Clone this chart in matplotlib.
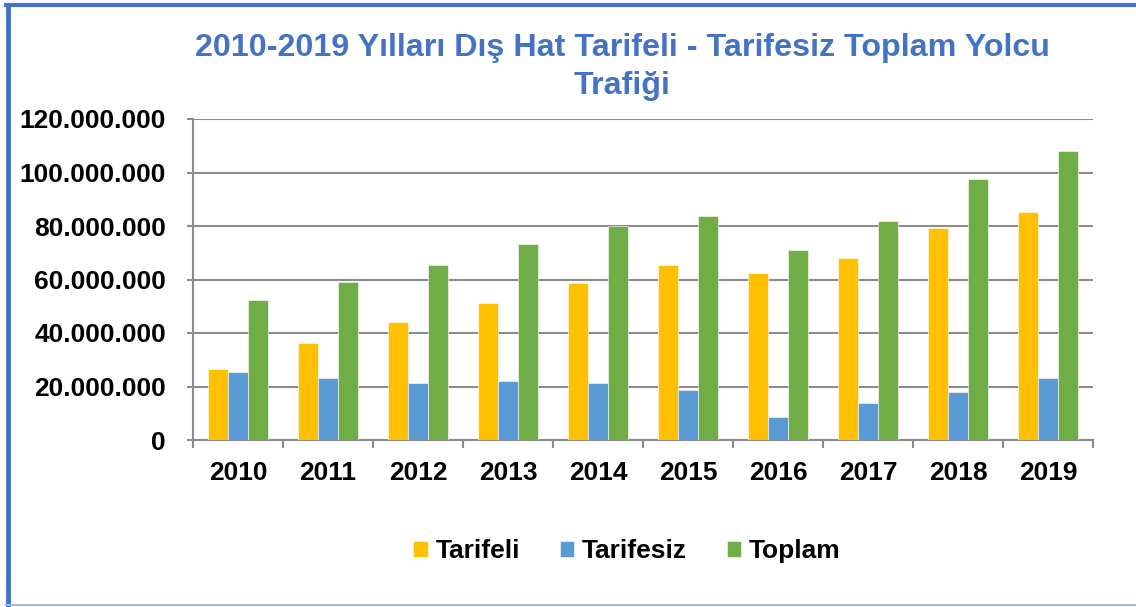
import matplotlib
matplotlib.use("Agg")
import matplotlib.pyplot as plt
import numpy as np
from matplotlib.ticker import FuncFormatter, MultipleLocator
from matplotlib.lines import Line2D

years = ["2010", "2011", "2012", "2013", "2014", "2015", "2016", "2017", "2018", "2019"]
tarifeli = [26.5e6, 36.1e6, 44.0e6, 51.2e6, 58.7e6, 65.3e6, 62.3e6, 68.0e6, 79.4e6, 85.3e6]
tarifesiz = [25.5e6, 23.2e6, 21.3e6, 21.9e6, 21.4e6, 18.6e6, 8.7e6, 13.7e6, 18.1e6, 23.1e6]
toplam = [52.2e6, 59.1e6, 65.6e6, 73.1e6, 80.1e6, 83.8e6, 71.1e6, 81.7e6, 97.4e6, 108.2e6]
series_names = ["Tarifeli", "Tarifesiz", "Toplam"]
colors = ["#FFC000", "#5B9BD5", "#70AD47"]
title = "2010-2019 Yılları Dış Hat Tarifeli - Tarifesiz Toplam Yolcu\nTrafiği"

plt.rcParams['font.family'] = ['Liberation Sans', 'DejaVu Sans']
plt.rcParams['font.weight'] = 'bold'

W, H = 1136, 607
fig = plt.figure(figsize=(W / 100, H / 100), dpi=100)
ax = fig.add_axes([193 / W, 1 - 440 / H, (1093 - 193) / W, (440 - 119) / H])

x = np.arange(len(years))
bw = 0.222
for i, (vals, name, c) in enumerate(zip([tarifeli, tarifesiz, toplam], series_names, colors)):
    ax.bar(x + (i - 1) * bw, vals, width=bw, color=c, label=name, zorder=3,
           edgecolor="white", linewidth=0.4)

ax.set_xlim(-0.5, len(years) - 0.5)
ax.set_ylim(0, 120e6)
ax.yaxis.set_major_locator(MultipleLocator(20e6))
ax.yaxis.set_major_formatter(FuncFormatter(lambda v, p: f"{v:,.0f}".replace(",", ".")))
ax.grid(axis='y', color='#8C8C8C', linewidth=1.5, zorder=0)
ax.set_axisbelow(True)

ax.set_xticks(x)
ax.set_xticklabels(years)
ax.set_xticks(np.arange(-0.5, len(years)), minor=True)
ax.tick_params(axis='x', which='major', length=0, pad=15, labelsize=19)
ax.tick_params(axis='x', which='minor', length=6, width=1.5, color='#8C8C8C', direction='out')
ax.tick_params(axis='y', length=4.5, width=1.5, color='#8C8C8C', labelsize=19, pad=15)
for lab in ax.get_xticklabels() + ax.get_yticklabels():
    lab.set_fontweight('bold')

for s in ['top', 'right']:
    ax.spines[s].set_visible(False)
for s in ['left', 'bottom']:
    ax.spines[s].set_color('#8C8C8C')
    ax.spines[s].set_linewidth(1.5)

fig.text(622 / W, 1 - 67 / H, title, ha='center', va='center', color='#4472C4',
         fontsize=23.2, fontweight='bold', linespacing=1.32)

leg = fig.legend(loc='center', bbox_to_anchor=(627 / W, 1 - 551 / H), ncol=3, frameon=False,
                 handlelength=0.55, handleheight=0.55, handletextpad=0.3, columnspacing=1.5,
                 prop={'size': 19, 'weight': 'bold'})

# border
fig.add_artist(Line2D([8 / W, 8 / W], [0, 1 - 5 / H], transform=fig.transFigure, color='#4472C4', linewidth=3.5))
fig.add_artist(Line2D([6 / W, 1], [1 - 5 / H, 1 - 5 / H], transform=fig.transFigure, color='#4472C4', linewidth=3))
fig.add_artist(Line2D([6 / W, 1], [1 - 605 / H, 1 - 605 / H], transform=fig.transFigure, color='#9DB9E8', linewidth=1.5))

fig.savefig("out.png", dpi=100)
